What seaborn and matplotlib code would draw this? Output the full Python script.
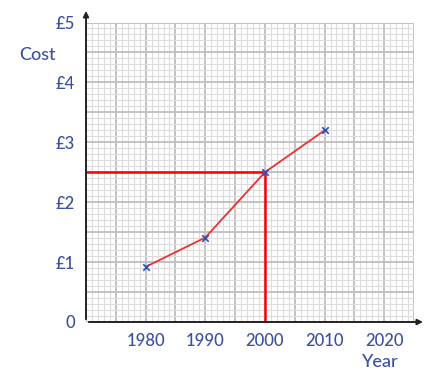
import numpy as np
import pandas as pd
import seaborn as sns
from matplotlib import pyplot as plt

# data
years = [1980, 1990, 2000, 2010]
cost = [0.92, 1.41, 2.5, 3.2]
x_ticks = [1980, 1990, 2000, 2010, 2020]
y_ticks = [0, 1, 2, 3, 4, 5]
y_tick_labels = ["0", "£1", "£2", "£3", "£4", "£5"]
read_year = 2000
read_cost = 2.5

text_blue = "#3b4fa3"

sns.set_style("white")
plt.rcParams["font.family"] = ["Lato", "DejaVu Sans"]

df = pd.DataFrame({"year": years, "cost": cost})

fig = plt.figure(figsize=(4.35, 3.77), dpi=100)
ax = fig.add_axes([86 / 435, 1 - 322 / 377, 328 / 435, 299.5 / 377])
ax.set_xlim(1970, 2025)
ax.set_ylim(0, 5)

# graph paper
for v in np.arange(1970, 2025.5, 1):
    major = abs(v % 5) < 1e-6
    ax.axvline(v, color="#c2c2c2" if major else "#dcdcdc", lw=1.4 if major else 0.8, zorder=0)
for v in np.arange(0, 5.05, 0.1):
    major = abs((v * 10) % 5) < 1e-6 or abs((v * 10) % 5 - 5) < 1e-6
    ax.axhline(v, color="#c2c2c2" if major else "#dcdcdc", lw=1.4 if major else 0.8, zorder=0)

# reading lines
ax.plot([1970, read_year], [read_cost, read_cost], color="#ff0000", lw=1.8, zorder=3)
ax.plot([read_year, read_year], [0, read_cost], color="#ff0000", lw=1.8, zorder=3)

sns.lineplot(data=df, x="year", y="cost", color="#ee3030", lw=1.3, ax=ax, zorder=4)
sns.scatterplot(data=df, x="year", y="cost", marker="x", color="#3050b0", s=22,
                linewidth=1.2, ax=ax, zorder=5)

for s in ax.spines.values():
    s.set_visible(False)

# axes with arrows
ax.annotate("", xy=(1.036, 0), xytext=(0, 0), xycoords="axes fraction",
            arrowprops=dict(arrowstyle="-|>", color="#222222", lw=1.4, mutation_scale=8),
            annotation_clip=False)
ax.annotate("", xy=(0, 1.048), xytext=(0, 0), xycoords="axes fraction",
            arrowprops=dict(arrowstyle="-|>", color="#222222", lw=1.4, mutation_scale=8),
            annotation_clip=False)

ax.set_xticks(x_ticks)
ax.set_xticklabels([str(t) for t in x_ticks])
ax.set_yticks(y_ticks)
ax.set_yticklabels(y_tick_labels)
ax.tick_params(length=0, labelsize=12, labelcolor=text_blue, pad=8)
for lab in ax.get_xticklabels() + ax.get_yticklabels():
    lab.set_fontweight("medium")
ax.set_xlabel("")
ax.set_ylabel("")

fig.text(38 / 435, 1 - 55 / 377, "Cost", color=text_blue, fontsize=13, fontweight="medium",
         ha="center", va="center")
fig.text(380 / 435, 1 - 362 / 377, "Year", color=text_blue, fontsize=13, fontweight="medium",
         ha="center", va="center")

plt.savefig("out.png", dpi=100)
